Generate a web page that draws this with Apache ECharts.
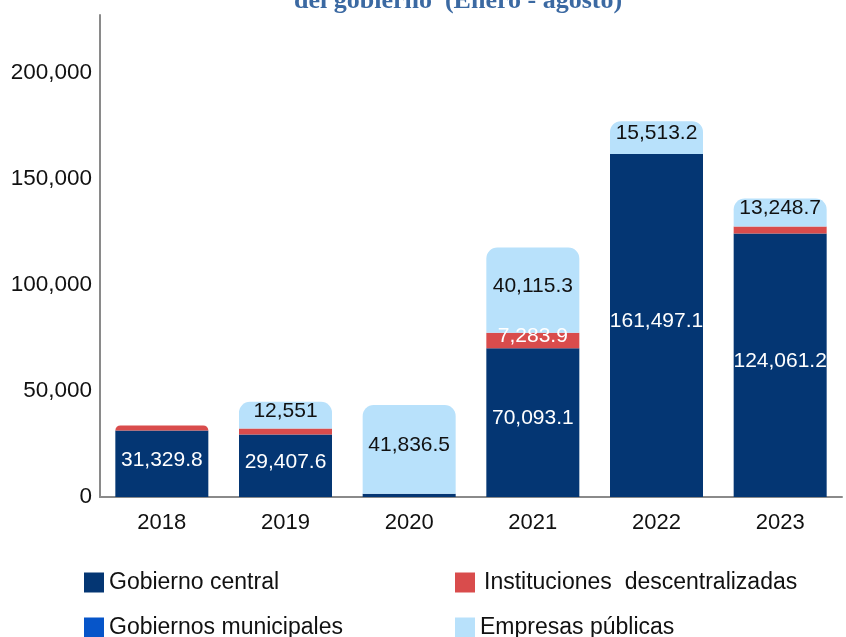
<!DOCTYPE html>
<html>
	<head>
		<meta charset="UTF-8">
		<title></title>
		<script src="https://cdn.jsdelivr.net/npm/echarts@6/dist/echarts.min.js"></script>
		<style type="text/css">
			body { margin: 0; background: #fff; }
		</style>
	</head>
	<body>
		<div id="box" style="width:846px;height:637px;"></div>

		<script type="text/javascript">
			var years = ['2018', '2019', '2020', '2021', '2022', '2023'];
			var gobiernoCentral = [31329.8, 29407.6, 1500, 70093.1, 161497.1, 124061.2];
			var instituciones = [2400, 2900, 0, 7283.9, 0, 3300];
			var municipales = [0, 0, 0, 0, 0, 0];
			var empresas = [0, 12551, 41836.5, 40115.3, 15513.2, 13248.7];
			var yTicks = [0, 50000, 100000, 150000, 200000];

			var names = ['Gobierno central', 'Instituciones  descentralizadas', 'Gobiernos municipales', 'Empresas públicas'];
			var colores = ['#043673', '#d94c4c', '#0655c9', '#b8e1fb'];
			var labelColor = ['#fff', '#fff', '#fff', '#111'];
			var allData = [gobiernoCentral, instituciones, municipales, empresas];

			// el segmento de arriba de cada barra lleva esquinas redondeadas
			function topIndex(i) {
				var t = 0;
				for (var s = 0; s < allData.length; s++) {
					if (allData[s][i] > 0) t = s;
				}
				return t;
			}

			function fmt(v) {
				return v.toLocaleString('en-US', {maximumFractionDigits: 1});
			}

			var series = allData.map(function (arr, s) {
				return {
					name: names[s],
					type: 'bar',
					stack: 'total',
					barWidth: 93,
					itemStyle: { color: colores[s] },
					label: {
						show: true,
						position: 'inside',
						offset: [0, -4],
						color: labelColor[s],
						fontFamily: 'Liberation Sans',
						fontSize: 21,
						formatter: function (p) {
							return p.value >= 5000 ? fmt(p.value) : '';
						}
					},
					data: arr.map(function (v, i) {
						var item = { value: v };
						if (topIndex(i) === s) {
							item.itemStyle = { borderRadius: [11, 11, 0, 0] };
						}
						return item;
					})
				};
			});

			function legendAt(name, left, top, pad) {
				return {
					data: [name],
					left: left,
					top: top,
					padding: 0,
					icon: 'rect',
					itemWidth: 20,
					itemHeight: 20,
					selectedMode: false,
					textStyle: {
						fontFamily: 'Liberation Sans',
						fontSize: 23,
						color: '#111',
						padding: [0, 0, 0, pad]
					}
				};
			}

			var myChart = echarts.init(document.getElementById('box'));
			var option = {
				animation: false,
				title: {
					text: 'del gobierno  (Enero - agosto)',
					left: 294,
					top: -12,
					padding: 0,
					textStyle: {
						fontFamily: 'Liberation Serif',
						fontWeight: 'bold',
						fontSize: 26,
						color: '#3b69a2'
					}
				},
				legend: [
					legendAt(names[0], 84, 571, 0),
					legendAt(names[1], 455, 571, 4),
					legendAt(names[2], 84, 616, 0),
					legendAt(names[3], 455, 616, 0)
				],
				grid: {
					left: 100,
					right: 4,
					top: 15,
					bottom: 140
				},
				xAxis: {
					type: 'category',
					data: years,
					axisLine: { lineStyle: { color: '#8a8a8a', width: 2 } },
					axisTick: { show: false },
					axisLabel: {
						fontFamily: 'Liberation Sans',
						fontSize: 22,
						color: '#111',
						margin: 15
					}
				},
				yAxis: {
					type: 'value',
					min: 0,
					max: 227000,
					interval: 50000,
					axisLine: { show: true, lineStyle: { color: '#8a8a8a', width: 2 } },
					axisTick: { show: false },
					splitLine: { show: false },
					axisLabel: {
						showMaxLabel: false,
						fontFamily: 'Liberation Sans',
						fontSize: 22.5,
						color: '#111',
						margin: 8,
						formatter: function (v) {
							return yTicks.indexOf(v) >= 0 ? v.toLocaleString('en-US') : '';
						}
					}
				},
				series: series
			};
			myChart.setOption(option);
		</script>
	</body>
</html>
